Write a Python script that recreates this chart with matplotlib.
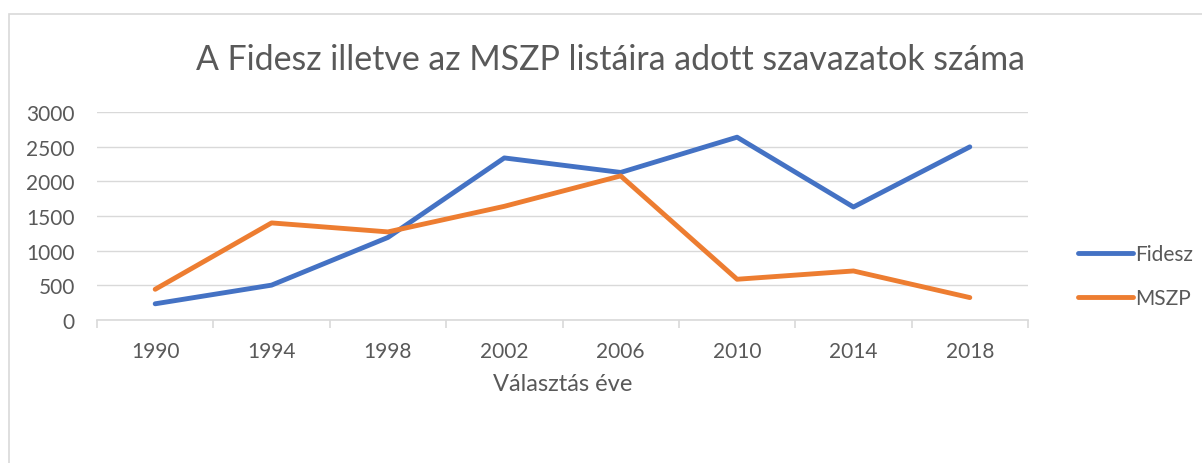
import numpy as np
import matplotlib.pyplot as plt
from matplotlib.patches import Rectangle

# values
years = ['1990', '1994', '1998', '2002', '2006', '2010', '2014', '2018']
fidesz = [230, 500, 1190, 2340, 2130, 2640, 1630, 2500]
mszp = [440, 1400, 1270, 1640, 2080, 585, 705, 320]

plt.rcParams['font.family'] = ['Lato', 'DejaVu Sans']
txt = '#595959'
grid = '#D9D9D9'

W, H = 1202, 464
fig = plt.figure(figsize=(W / 100, H / 100), dpi=100)
ax = fig.add_axes([97 / W, 1 - 320.7 / H, (1028 - 97) / W, (320.7 - 113.3) / H])

# chart frame (only left and top visible)
fig.patches.append(Rectangle((8.5 / W, -0.1), 1.2, 1 - 15 / H + 0.1, transform=fig.transFigure,
                             fill=False, edgecolor=grid, lw=1.2))

x = np.arange(len(years))
ax.plot(x, fidesz, color='#4472C4', lw=3.5, label='Fidesz', solid_capstyle='round', solid_joinstyle='round')
ax.plot(x, mszp, color='#ED7D31', lw=3.5, label='MSZP', solid_capstyle='round', solid_joinstyle='round')

ax.set_xlim(-0.5, len(years) - 0.5)
ax.set_ylim(0, 3000)
ax.set_yticks(np.arange(0, 3001, 500))
ax.yaxis.grid(True, color=grid, lw=1.0)
ax.set_axisbelow(True)
for s in ['left', 'right', 'top']:
    ax.spines[s].set_visible(False)
ax.spines['bottom'].set_color(grid)
ax.spines['bottom'].set_linewidth(1.2)

ax.set_xticks(x)
ax.set_xticklabels(years)
ax.set_xticks(np.arange(-0.5, len(years)), minor=True)
ax.tick_params(axis='x', which='major', length=0, pad=15, labelsize=15, labelcolor=txt)
ax.tick_params(axis='x', which='minor', length=6, width=1.2, color=grid)
ax.tick_params(axis='y', length=0, pad=16, labelsize=15, labelcolor=txt)

ax.set_xlabel('Választás éve', fontsize=17, color=txt, labelpad=9)

fig.text(611 / W, 1 - 60 / H, 'A Fidesz illetve az MSZP listáira adott szavazatok száma',
         ha='center', va='center', fontsize=24.4, color=txt)

leg = fig.legend(loc='center left', bbox_to_anchor=(1059 / W, 1 - 277 / H), frameon=False,
                 fontsize=15, handlelength=2.65, handletextpad=0.1, labelspacing=1.15,
                 labelcolor=txt)

fig.savefig('out.png', dpi=100)
